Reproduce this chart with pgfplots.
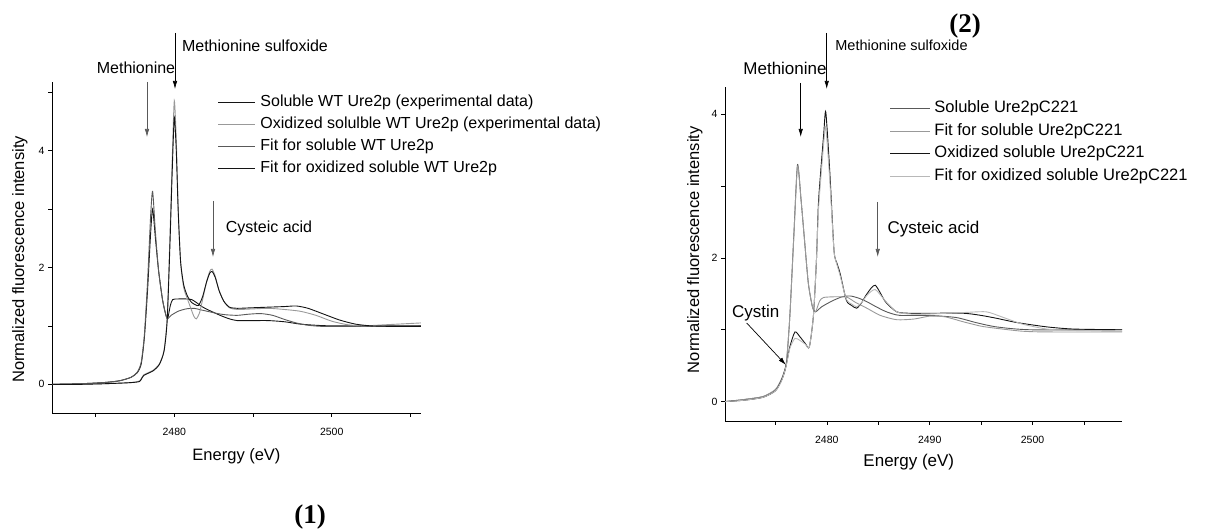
\documentclass[border=0pt]{standalone}
\usepackage{fontspec}
\setmainfont{Liberation Sans}
\newfontfamily\serifbf{Liberation Serif}
\usepackage{pgfplots}
\pgfplotsset{compat=1.18}
\usetikzlibrary{arrows.meta}

\definecolor{cblack}{gray}{0.08}
\definecolor{cdark}{gray}{0.35}
\definecolor{clight}{gray}{0.6}
\definecolor{clighter}{gray}{0.72}

\newcommand{\fs}[1]{\fontsize{#1}{#1}\selectfont}

\pgfplotsset{
  xanes/.style={
    anchor=south west, scale only axis,
    axis x line*=bottom, axis y line*=left,
    tick align=outside, major tick length=4pt, minor tick length=4pt,
    tick style={black, line width=0.6pt},
    axis line style={line width=0.8pt},
    ticklabel style={font=\fs{10.5}},
    xticklabel style={yshift=-8pt},
    /pgf/number format/assume math mode=true,
    /pgf/number format/1000 sep={},
    label style={font=\fs{16.5}},
    every axis plot/.append style={line width=0.9pt, smooth, tension=0.4},
  },
}

\begin{document}
\begin{tikzpicture}
\path[use as bounding box] (0,0) rectangle (1219pt,532pt);

% ---------- panel (1)
\begin{axis}[xanes,
  at={(52pt,119pt)}, width=369pt, height=331pt,
  xmin=2464.46, xmax=2511.35, ymin=-0.49, ymax=5.17,
  xtick={2480,2500}, minor xtick={2470,2490,2510},
  ytick={0,2,4}, minor ytick={1,3,5},
  xlabel={Energy (eV)}, ylabel={Normalized fluorescence intensity},
  xlabel style={at={(axis description cs:0.5,-0.131)}, anchor=center},
  ylabel style={at={(axis description cs:-0.087,0.464)}, anchor=center},
]
% soluble WT, experimental
\addplot[cblack] coordinates {
(2464.5,0.0) (2468,0.01) (2471,0.03) (2473,0.06) (2474.5,0.12) (2475.3,0.2)
(2475.8,0.35) (2476.2,0.8) (2476.6,1.6) (2477.0,2.6) (2477.25,3.0) (2477.6,2.5)
(2478.0,1.95) (2478.5,1.45) (2478.9,1.2) (2479.15,1.12) (2479.5,1.35) (2479.8,1.45)
(2480.5,1.46) (2481.5,1.46) (2482.2,1.45) (2482.8,1.40) (2483.5,1.33) (2484.2,1.28)
(2485,1.23) (2486,1.17) (2487,1.12) (2488,1.09) (2490,1.09) (2492,1.09) (2494,1.07)
(2496,1.03) (2498,1.01) (2500,1.0) (2505,1.0) (2511.35,1.0)
};
% fit soluble WT
\addplot[cdark] coordinates {
(2464.5,0.0) (2468,0.01) (2471,0.03) (2473,0.06) (2474.5,0.12) (2475.3,0.21)
(2475.8,0.38) (2476.2,0.85) (2476.6,1.75) (2477.0,2.9) (2477.25,3.3) (2477.6,2.6)
(2478.0,1.95) (2478.5,1.45) (2478.9,1.2) (2479.15,1.12) (2479.6,1.18) (2480.5,1.25)
(2481.5,1.29) (2482.5,1.30) (2483.5,1.27) (2484.5,1.24) (2485.5,1.21) (2486.5,1.19)
(2488,1.18) (2489.5,1.2) (2491,1.21) (2492.5,1.18) (2494,1.11) (2495.5,1.05)
(2497,1.01) (2499,0.99) (2503,0.99) (2511.35,1.0)
};
% oxidized soluble WT, experimental
\addplot[clight] coordinates {
(2464.5,0.0) (2468,0.0) (2471,0.01) (2473,0.02) (2474.5,0.03) (2475.6,0.06)
(2476.1,0.16) (2477.3,0.24) (2478.1,0.35) (2478.7,0.58) (2479.1,1.15) (2479.45,2.55)
(2479.75,3.9) (2480.0,4.85) (2480.25,4.2) (2480.5,3.0) (2480.8,2.1) (2481.2,1.65)
(2481.7,1.45) (2482.1,1.3) (2482.5,1.16) (2482.8,1.12) (2483.2,1.22) (2483.6,1.45)
(2484.1,1.75) (2484.5,1.93) (2484.8,1.97) (2485.2,1.85) (2485.7,1.6) (2486.3,1.42)
(2487,1.31) (2488,1.28) (2490,1.29) (2492,1.3) (2494,1.28) (2496,1.25) (2498,1.18)
(2500,1.08) (2502,1.02) (2504,1.0) (2507,1.02) (2511.35,1.05)
};
% fit oxidized soluble WT
\addplot[cblack] coordinates {
(2464.5,0.0) (2468,0.0) (2471,0.01) (2473,0.02) (2474.5,0.03) (2475.6,0.05)
(2476.1,0.15) (2477.3,0.23) (2478.1,0.34) (2478.7,0.57) (2479.1,1.1) (2479.45,2.4)
(2479.75,3.7) (2480.0,4.57) (2480.25,4.0) (2480.5,2.95) (2480.8,2.1) (2481.2,1.7)
(2481.7,1.5) (2482.2,1.4) (2482.7,1.36) (2483.1,1.35) (2483.6,1.5) (2484.1,1.75)
(2484.5,1.9) (2484.8,1.93) (2485.2,1.83) (2485.7,1.6) (2486.3,1.42) (2487,1.32)
(2488,1.3) (2490,1.31) (2492,1.32) (2494,1.33) (2495.5,1.34) (2497,1.3) (2499,1.2)
(2501,1.1) (2503,1.03) (2505,1.0) (2508,0.99) (2511.35,0.99)
};
\end{axis}

% ---------- panel (2)
\begin{axis}[xanes,
  at={(725pt,111pt)}, width=397pt, height=334pt,
  xmin=2470.1, xmax=2508.7, ymin=-0.27, ymax=4.38,
  xtick={2480,2490,2500}, minor xtick={2475,2485,2495,2505},
  ytick={0,2,4}, minor ytick={1,3},
  xlabel={Energy (eV)}, ylabel={Normalized fluorescence intensity},
  xlabel style={at={(axis description cs:0.463,-0.123)}, anchor=center, font=\fs{17}},
  ylabel style={at={(axis description cs:-0.076,0.513)}, anchor=center},
]
% soluble Ure2pC221
\addplot[cdark] coordinates {
(2470.1,0.0) (2472,0.03) (2473.8,0.07) (2475,0.16) (2475.6,0.3) (2476.05,0.51)
(2476.4,1.18) (2476.8,2.34) (2477.15,3.3) (2477.5,2.8) (2477.8,2.3) (2478.2,1.65)
(2478.6,1.32) (2478.9,1.25) (2479.5,1.32) (2480.5,1.4) (2481.5,1.46) (2482.3,1.47)
(2483.1,1.44) (2483.9,1.39) (2484.8,1.32) (2485.8,1.25) (2487.1,1.2) (2490,1.2)
(2492.6,1.17) (2494.5,1.1) (2496.5,1.04) (2499.8,1.0) (2508.7,1.0)
};
% fit soluble Ure2pC221
\addplot[clight] coordinates {
(2470.1,0.0) (2472,0.03) (2473.8,0.07) (2475,0.17) (2475.6,0.32) (2476.05,0.53)
(2476.4,1.18) (2476.8,2.32) (2477.15,3.28) (2477.5,2.8) (2477.8,2.3) (2478.2,1.65)
(2478.6,1.32) (2478.9,1.25) (2479.3,1.4) (2479.7,1.45) (2481,1.46) (2482,1.45)
(2482.8,1.38) (2483.9,1.3) (2485.2,1.2) (2486.8,1.14) (2488.5,1.15) (2490,1.19)
(2491.5,1.18) (2493.3,1.11) (2495,1.05) (2496.5,1.02) (2499,0.98) (2501.4,0.97)
(2508.7,0.97)
};
% oxidized soluble Ure2pC221
\addplot[cblack] coordinates {
(2470.1,0.0) (2472,0.02) (2473.8,0.06) (2475,0.15) (2475.6,0.3) (2476.05,0.51)
(2476.4,0.76) (2476.9,0.97) (2477.4,0.9) (2477.9,0.81) (2478.3,0.76) (2478.7,1.2)
(2479.0,2.0) (2479.2,2.8) (2479.7,3.73) (2479.9,4.03) (2480.3,3.17) (2480.7,2.1)
(2481.0,1.92) (2481.3,1.78) (2481.9,1.41) (2482.4,1.34) (2482.9,1.3) (2483.4,1.38)
(2483.9,1.5) (2484.7,1.62) (2485.7,1.39) (2486.8,1.25) (2488,1.23) (2490,1.23)
(2493.3,1.23) (2495,1.2) (2496.5,1.16) (2498.5,1.1) (2501.4,1.04) (2504,1.01)
(2508.7,1.0)
};
% fit oxidized soluble Ure2pC221
\addplot[clighter] coordinates {
(2470.1,0.0) (2472,0.02) (2473.8,0.06) (2475,0.15) (2475.6,0.29) (2476.05,0.5)
(2476.4,0.74) (2476.9,0.88) (2477.4,0.85) (2477.9,0.8) (2478.3,0.76) (2478.7,1.2)
(2479.0,2.0) (2479.2,2.7) (2479.7,3.6) (2479.9,3.82) (2480.3,3.05) (2480.7,2.1)
(2481.0,1.9) (2481.3,1.75) (2481.9,1.42) (2482.4,1.36) (2482.9,1.32) (2483.4,1.38)
(2483.9,1.48) (2484.7,1.56) (2485.7,1.4) (2486.8,1.25) (2488,1.22) (2490,1.22)
(2493.3,1.24) (2495.5,1.25) (2497,1.18) (2499,1.08) (2501.4,1.01) (2504,0.99)
(2508.7,0.98)
};
\end{axis}

% ---------- legends
\begin{scope}[line width=0.9pt]
\draw[cblack] (218pt,429.3pt) -- (255pt,429.3pt);
\node[anchor=west, inner sep=0pt, font=\fs{16}] at (260pt,429.3pt) {Soluble WT Ure2p (experimental data)};
\draw[clight] (218pt,408pt) -- (255pt,408pt);
\node[anchor=west, inner sep=0pt, font=\fs{16}] at (260pt,408pt) {Oxidized solulble WT Ure2p (experimental data)};
\draw[cdark] (218pt,386pt) -- (255pt,386pt);
\node[anchor=west, inner sep=0pt, font=\fs{16}] at (260pt,386pt) {Fit for soluble WT Ure2p};
\draw[cblack] (218pt,364pt) -- (255pt,364pt);
\node[anchor=west, inner sep=0pt, font=\fs{16}] at (260pt,364pt) {Fit for oxidized soluble WT Ure2p};

\draw[cdark] (890pt,424pt) -- (930pt,424pt);
\node[anchor=west, inner sep=0pt, font=\fs{16.5}] at (934pt,424pt) {Soluble Ure2pC221};
\draw[clight] (890pt,401pt) -- (930pt,401pt);
\node[anchor=west, inner sep=0pt, font=\fs{16.5}] at (934pt,401pt) {Fit for soluble Ure2pC221};
\draw[cblack] (890pt,379pt) -- (930pt,379pt);
\node[anchor=west, inner sep=0pt, font=\fs{16.5}] at (934pt,379pt) {Oxidized soluble Ure2pC221};
\draw[clighter] (890pt,356pt) -- (930pt,356pt);
\node[anchor=west, inner sep=0pt, font=\fs{16.5}] at (934pt,356pt) {Fit for oxidized soluble Ure2pC221};
\end{scope}

% ---------- annotations
\tikzset{ann/.style={-{Latex[length=8pt,width=4.5pt]}, line width=0.7pt}}
\node[font=\fs{16}] at (136pt,464pt) {Methionine};
\draw[ann, cdark] (147pt,450pt) -- (147pt,395pt);
\node[font=\fs{16}] at (255pt,486pt) {Methionine sulfoxide};
\draw[ann, black] (175pt,499pt) -- (175pt,443pt);
\node[font=\fs{16}] at (269pt,304pt) {Cysteic acid};
\draw[ann, cdark] (213pt,331pt) -- (213pt,275pt);
\node[font=\serifbf\bfseries\fs{27}] at (310pt,15pt) {(1)};

\node[font=\serifbf\bfseries\fs{27}] at (965pt,506pt) {(2)};
\node[font=\fs{14.5}] at (901.5pt,487pt) {Methionine sulfoxide};
\draw[ann, black] (826.7pt,499pt) -- (826.7pt,443pt);
\node[font=\fs{17}] at (785pt,464pt) {Methionine};
\draw[ann, black] (800.7pt,449pt) -- (800.7pt,395pt);
\node[font=\fs{17}] at (933.5pt,303pt) {Cysteic acid};
\draw[ann, cdark] (877.7pt,330pt) -- (877.7pt,275pt);
\node[font=\fs{17}] at (755.7pt,219pt) {Cystin};
\draw[ann, black] (746.7pt,209pt) -- (786pt,167pt);
\end{tikzpicture}
\end{document}
